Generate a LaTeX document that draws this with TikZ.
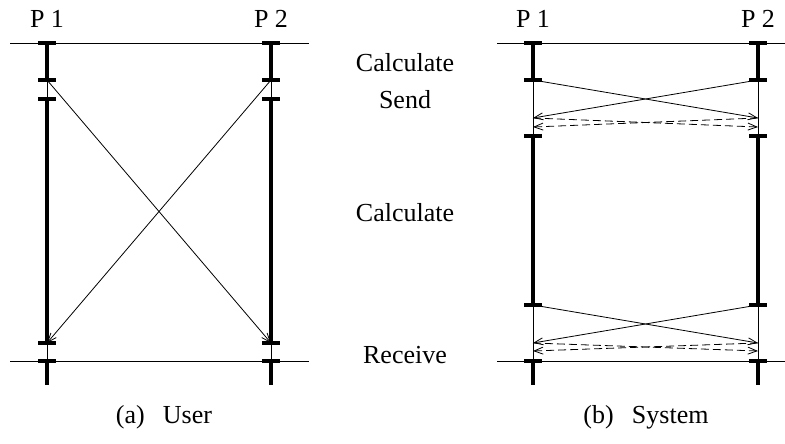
\documentclass[tikz,border=0pt]{standalone}
\usepackage{fontspec}
\setmainfont{Liberation Serif}
\usetikzlibrary{arrows.meta}
\begin{document}
\begin{tikzpicture}[x=1pt,y=-1pt,
  tickmark/.style={fill=black,inner sep=0pt,minimum width=18pt,minimum height=3.8pt},
  life/.style={line width=4pt},
  idle/.style={line width=0.8pt},
  msg/.style={line width=0.8pt,-{Straight Barb[length=9pt,width=7pt]}},
  ack/.style={msg,dash pattern=on 8pt off 4pt},
  axisline/.style={line width=0.8pt},
  lbl/.style={font=\fontsize{26}{30}\selectfont,inner sep=0pt}]
\useasboundingbox (0,0) rectangle (785,444);

% ---------- (a) User ----------
\coordinate (aL1) at (10,43);  \coordinate (aR1) at (309,43);
\coordinate (aL2) at (10,361); \coordinate (aR2) at (309,361);
\foreach \n/\x in {p/47,q/271}{
  \coordinate (a\n1) at (\x,43);
  \coordinate (a\n2) at (\x,80);
  \coordinate (a\n3) at (\x,99);
  \coordinate (a\n4) at (\x,343);
  \coordinate (a\n5) at (\x,361);
  \coordinate (a\n6) at (\x,385);
}
\draw[axisline] (aL1) -- (aR1);
\draw[axisline] (aL2) -- (aR2);
\foreach \n in {p,q}{
  \draw[life] (a\n1) -- (a\n2);
  \draw[idle] (a\n2) -- (a\n3);
  \draw[life] (a\n3) -- (a\n4);
  \draw[idle] (a\n4) -- (a\n5);
  \draw[life] (a\n5) -- (a\n6);
  \foreach \k in {1,...,5}{ \node[tickmark] (ta\n\k) at (a\n\k) {}; }
}
\draw[msg] (ap2) -- (aq4);
\draw[msg] (aq2) -- (ap4);
\node[lbl] (aP1) at (47,19) {P 1};
\node[lbl] (aP2) at (271,19) {P 2};
\node[lbl] (capa) at (164,417) {(a)\hspace{0.7em}User};

% ---------- (b) System ----------
\coordinate (bL1) at (497,43);  \coordinate (bR1) at (785,43);
\coordinate (bL2) at (497,361); \coordinate (bR2) at (785,361);
\foreach \n/\x in {p/533,q/758}{
  \coordinate (b\n1) at (\x,43);
  \coordinate (b\n2) at (\x,80);
  \coordinate (b\n3) at (\x,136);
  \coordinate (b\n4) at (\x,305);
  \coordinate (b\n5) at (\x,361);
  \coordinate (b\n6) at (\x,385);
  \coordinate (b\n7) at (\x,118);
  \coordinate (b\n8) at (\x,127);
  \coordinate (b\n9) at (\x,343);
  \coordinate (b\n0) at (\x,351);
}
\draw[axisline] (bL1) -- (bR1);
\draw[axisline] (bL2) -- (bR2);
\foreach \n in {p,q}{
  \draw[life] (b\n1) -- (b\n2);
  \draw[idle] (b\n2) -- (b\n3);
  \draw[life] (b\n3) -- (b\n4);
  \draw[idle] (b\n4) -- (b\n5);
  \draw[life] (b\n5) -- (b\n6);
  \foreach \k in {1,...,5}{ \node[tickmark] (tb\n\k) at (b\n\k) {}; }
}
\draw[msg] (bp2) -- (bq7);
\draw[msg] (bq2) -- (bp7);
\draw[ack] (bp7) -- (bq8);
\draw[ack] (bq7) -- (bp8);
\draw[msg] (bp4) -- (bq9);
\draw[msg] (bq4) -- (bp9);
\draw[ack] (bp9) -- (bq0);
\draw[ack] (bq9) -- (bp0);
\node[lbl] (bP1) at (533,19) {P 1};
\node[lbl] (bP2) at (758,19) {P 2};
\node[lbl] (capb) at (646,417) {(b)\hspace{0.7em}System};

% ---------- middle labels ----------
\node[lbl] (m1) at (405,63) {Calculate};
\node[lbl] (m2) at (405,100) {Send};
\node[lbl] (m3) at (405,213) {Calculate};
\node[lbl] (m4) at (405,355) {Receive};
\end{tikzpicture}
\end{document}
